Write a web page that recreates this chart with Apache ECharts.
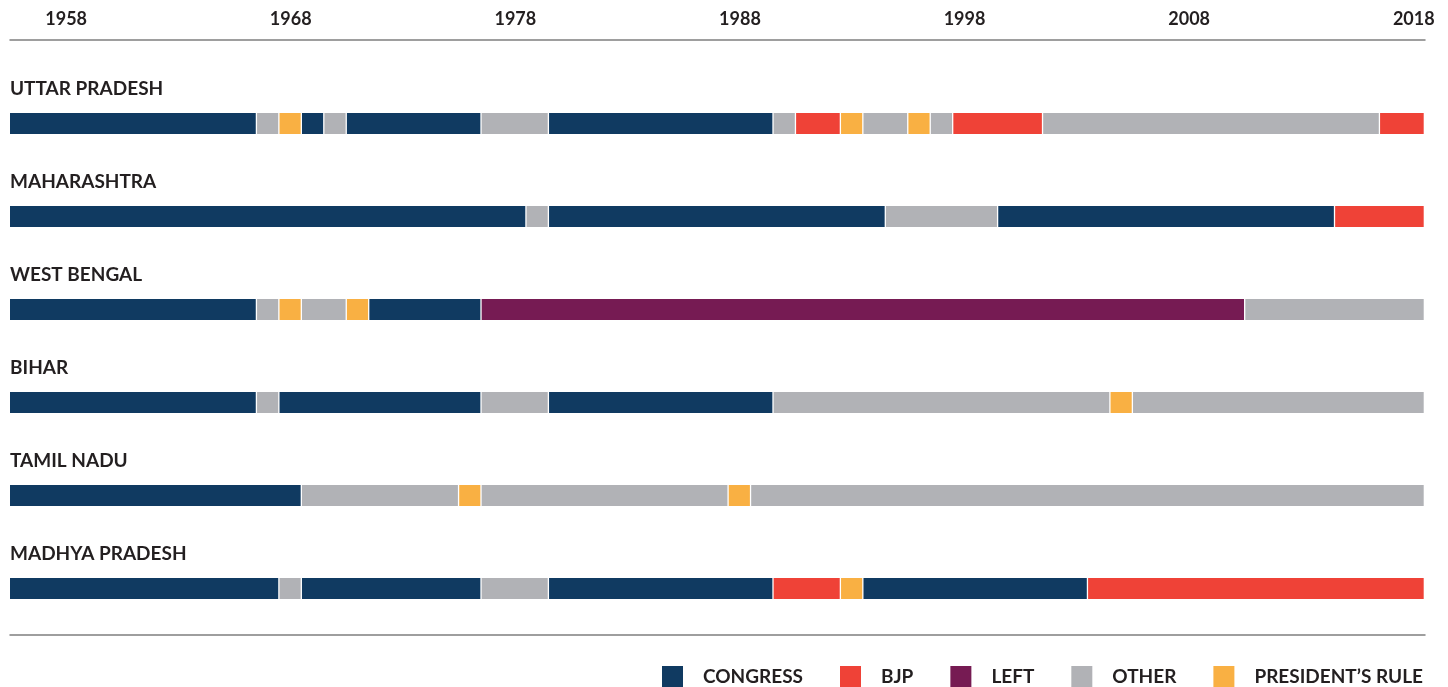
<!DOCTYPE html>
<html>
<head>
<meta charset="utf-8">
<script src="https://cdn.jsdelivr.net/npm/echarts@6.0.0/dist/echarts.min.js"></script>
<style>
  html, body { margin: 0; padding: 0; background: #ffffff; }
  #chart { width: 1448px; height: 687px; }
</style>
</head>
<body>
<div id="chart"></div>
<script>
// ---- Data (years are inclusive, each year is one cell) ----
const STATES = ['UTTAR PRADESH', 'MAHARASHTRA', 'WEST BENGAL', 'BIHAR', 'TAMIL NADU', 'MADHYA PRADESH'];
const PARTIES = ['CONGRESS', 'BJP', 'LEFT', 'OTHER', 'PRESIDENT’S RULE'];
const TICK_YEARS = [1958, 1968, 1978, 1988, 1998, 2008, 2018];
const FIRST_YEAR = 1956;
const LAST_YEAR = 2018;

const UTTAR_PRADESH = [
  ['CONGRESS', 1956, 1966], ['OTHER', 1967, 1967], ['PRESIDENT’S RULE', 1968, 1968],
  ['CONGRESS', 1969, 1969], ['OTHER', 1970, 1970], ['CONGRESS', 1971, 1976],
  ['OTHER', 1977, 1979], ['CONGRESS', 1980, 1989], ['OTHER', 1990, 1990],
  ['BJP', 1991, 1992], ['PRESIDENT’S RULE', 1993, 1993], ['OTHER', 1994, 1995],
  ['PRESIDENT’S RULE', 1996, 1996], ['OTHER', 1997, 1997], ['BJP', 1998, 2001],
  ['OTHER', 2002, 2016], ['BJP', 2017, 2018]
];
const MAHARASHTRA = [
  ['CONGRESS', 1956, 1978], ['OTHER', 1979, 1979], ['CONGRESS', 1980, 1994],
  ['OTHER', 1995, 1999], ['CONGRESS', 2000, 2014], ['BJP', 2015, 2018]
];
const WEST_BENGAL = [
  ['CONGRESS', 1956, 1966], ['OTHER', 1967, 1967], ['PRESIDENT’S RULE', 1968, 1968],
  ['OTHER', 1969, 1970], ['PRESIDENT’S RULE', 1971, 1971], ['CONGRESS', 1972, 1976],
  ['LEFT', 1977, 2010], ['OTHER', 2011, 2018]
];
const BIHAR = [
  ['CONGRESS', 1956, 1966], ['OTHER', 1967, 1967], ['CONGRESS', 1968, 1976],
  ['OTHER', 1977, 1979], ['CONGRESS', 1980, 1989], ['OTHER', 1990, 2004],
  ['PRESIDENT’S RULE', 2005, 2005], ['OTHER', 2006, 2018]
];
const TAMIL_NADU = [
  ['CONGRESS', 1956, 1968], ['OTHER', 1969, 1975], ['PRESIDENT’S RULE', 1976, 1976],
  ['OTHER', 1977, 1987], ['PRESIDENT’S RULE', 1988, 1988], ['OTHER', 1989, 2018]
];
const MADHYA_PRADESH = [
  ['CONGRESS', 1956, 1967], ['OTHER', 1968, 1968], ['CONGRESS', 1969, 1976],
  ['OTHER', 1977, 1979], ['CONGRESS', 1980, 1989], ['BJP', 1990, 1992],
  ['PRESIDENT’S RULE', 1993, 1993], ['CONGRESS', 1994, 2003], ['BJP', 2004, 2018]
];

const STATE_SEGMENTS = [UTTAR_PRADESH, MAHARASHTRA, WEST_BENGAL, BIHAR, TAMIL_NADU, MADHYA_PRADESH];

// ---- Styles ----
const COLORS = {
  'CONGRESS': '#103a61',
  'BJP': '#ef4237',
  'LEFT': '#761b53',
  'OTHER': '#b1b2b6',
  'PRESIDENT’S RULE': '#f9b043'
};
const FONT = 'Lato, "Open Sans", sans-serif';
const TEXT_COLOR = '#231f20';
const X_MIN = FIRST_YEAR - 0.5;
const X_MAX = LAST_YEAR + 0.5;
const BAR_H = 21;

const chart = echarts.init(document.getElementById('chart'), null, { renderer: 'canvas' });

function segRender(params, api) {
  const row = api.value(0);
  const p0 = api.coord([api.value(1) - 0.5, row]);
  const p1 = api.coord([api.value(2) + 0.5, row]);
  return {
    type: 'rect',
    shape: { x: p0[0], y: p0[1] - BAR_H / 2, width: Math.max(1, p1[0] - p0[0] - 1.3), height: BAR_H },
    style: { fill: api.visual('color') }
  };
}

const partySeries = PARTIES.map(party => {
  const data = [];
  STATE_SEGMENTS.forEach((segs, row) => {
    segs.forEach(s => { if (s[0] === party) data.push([row, s[1], s[2]]); });
  });
  return {
    name: party,
    type: 'custom',
    renderItem: segRender,
    encode: { x: [1, 2], y: 0 },
    itemStyle: { color: COLORS[party] },
    clip: false,
    silent: true,
    data: data
  };
});

const labelSeries = {
  name: 'labels',
  type: 'custom',
  silent: true,
  clip: false,
  encode: { y: 0 },
  renderItem: function (params, api) {
    const row = api.value(0);
    const p = api.coord([X_MIN, row]);
    return {
      type: 'text',
      x: p[0],
      y: p[1] - 35,
      style: {
        text: STATES[row],
        fill: TEXT_COLOR,
        font: 'bold 19px ' + FONT,
        align: 'left',
        verticalAlign: 'middle'
      }
    };
  },
  data: STATES.map((s, i) => [i])
};

const option = {
  backgroundColor: '#ffffff',
  animation: false,
  textStyle: { fontFamily: FONT },
  grid: { left: 10, right: 23, top: 77, bottom: 52, containLabel: false },
  legend: {
    data: PARTIES,
    right: 25,
    top: 666,
    padding: 0,
    icon: 'rect',
    itemWidth: 21,
    itemHeight: 21,
    itemGap: 37,
    selectedMode: false,
    textStyle: {
      fontFamily: FONT,
      fontSize: 19,
      fontWeight: 'bold',
      color: TEXT_COLOR,
      padding: [0, 0, 0, 15]
    }
  },
  xAxis: [
    {
      type: 'value',
      position: 'top',
      offset: 37,
      min: X_MIN,
      max: X_MAX,
      axisLine: { show: true, lineStyle: { color: '#7f7f7f', width: 1.5 } },
      axisTick: { show: false },
      splitLine: { show: false },
      axisLabel: {
        customValues: TICK_YEARS,
        color: TEXT_COLOR,
        fontFamily: FONT,
        fontSize: 18,
        fontWeight: 'bold',
        margin: 12,
        formatter: v => String(v)
      }
    },
    {
      type: 'value',
      position: 'bottom',
      min: X_MIN,
      max: X_MAX,
      axisLine: { show: true, lineStyle: { color: '#7f7f7f', width: 1.5 } },
      axisTick: { show: false },
      splitLine: { show: false },
      axisLabel: { show: false }
    }
  ],
  yAxis: {
    type: 'category',
    inverse: true,
    data: STATES,
    show: false
  },
  series: partySeries.concat([labelSeries])
};

chart.setOption(option);
</script>
</body>
</html>
